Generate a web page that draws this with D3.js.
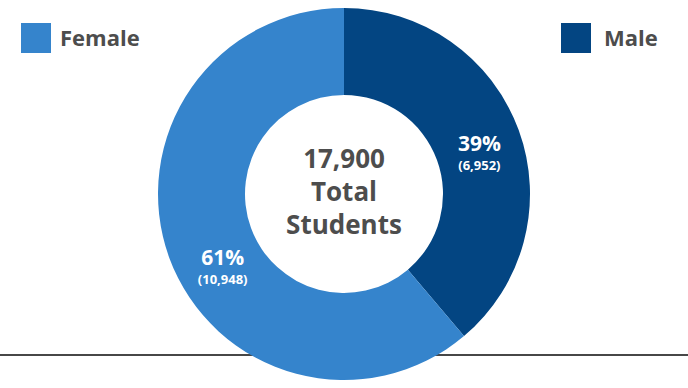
<!DOCTYPE html>
<html>
<head>
<meta charset="utf-8">
<script src="https://cdn.jsdelivr.net/npm/d3@7"></script>
<style>
  body { margin: 0; background: #fff; }
  svg { display: block; }
  text { font-family: "Open Sans", "Noto Sans", sans-serif; font-weight: 700; }
</style>
</head>
<body>
<script>
// chart data
const categories = ["Male", "Female"];
const counts = [6952, 10948];
const percentLabels = ["39%", "61%"];
const countLabels = ["(6,952)", "(10,948)"];
const totalLabel = ["17,900", "Total", "Students"];
const colors = ["#034582", "#3584cc"];

// Set up the dimensions of the chart
const width = 688;
const height = 388;
const cx = 344, cy = 194;
const outerR = 186, innerR = 99;

const svg = d3.select("body")
    .append("svg")
    .attr("width", width)
    .attr("height", height);

// baseline rule behind the donut
svg.append("line")
    .attr("x1", 0).attr("x2", width)
    .attr("y1", 355).attr("y2", 355)
    .attr("stroke", "#474747")
    .attr("stroke-width", 2);

const pie = d3.pie().sort(null).value(d => d);
const arc = d3.arc().innerRadius(innerR).outerRadius(outerR);
const labelArc = d3.arc().innerRadius(142).outerRadius(142);

const g = svg.append("g")
    .attr("transform", "translate(" + cx + "," + cy + ")");

const slices = pie(counts);

g.selectAll("path")
    .data(slices)
    .enter()
    .append("path")
    .attr("d", arc)
    .attr("fill", (d, i) => colors[i]);

// small nudges so labels sit like the original
const nudge = [[2, 6], [12, 22]];

const labels = g.selectAll("g.label")
    .data(slices)
    .enter()
    .append("g")
    .attr("class", "label")
    .attr("transform", (d, i) => {
        const c = labelArc.centroid(d);
        return "translate(" + (c[0] + nudge[i][0]) + "," + (c[1] + nudge[i][1]) + ")";
    });

labels.append("text")
    .attr("text-anchor", "middle")
    .attr("fill", "#fff")
    .style("font-size", "21px")
    .text((d, i) => percentLabels[i]);

labels.append("text")
    .attr("text-anchor", "middle")
    .attr("y", 19)
    .attr("fill", "#fff")
    .style("font-size", "13px")
    .text((d, i) => countLabels[i]);

// center text
g.selectAll("text.total")
    .data(totalLabel)
    .enter()
    .append("text")
    .attr("class", "total")
    .attr("text-anchor", "middle")
    .attr("y", (d, i) => -26 + i * 33)
    .attr("fill", "#4d4d4d")
    .style("font-size", "26px")
    .text(d => d);

// legend
const legendPos = [{ x: 561, tx: 604 }, { x: 21, tx: 60 }];
const legend = svg.selectAll("g.legend")
    .data(categories)
    .enter()
    .append("g")
    .attr("class", "legend");

legend.append("rect")
    .attr("x", (d, i) => legendPos[i].x)
    .attr("y", 23)
    .attr("width", 30)
    .attr("height", 30)
    .attr("fill", (d, i) => colors[i]);

legend.append("text")
    .attr("x", (d, i) => legendPos[i].tx)
    .attr("y", 46)
    .attr("fill", "#4d4d4d")
    .style("font-size", "22px")
    .text(d => d);
</script>
</body>
</html>
